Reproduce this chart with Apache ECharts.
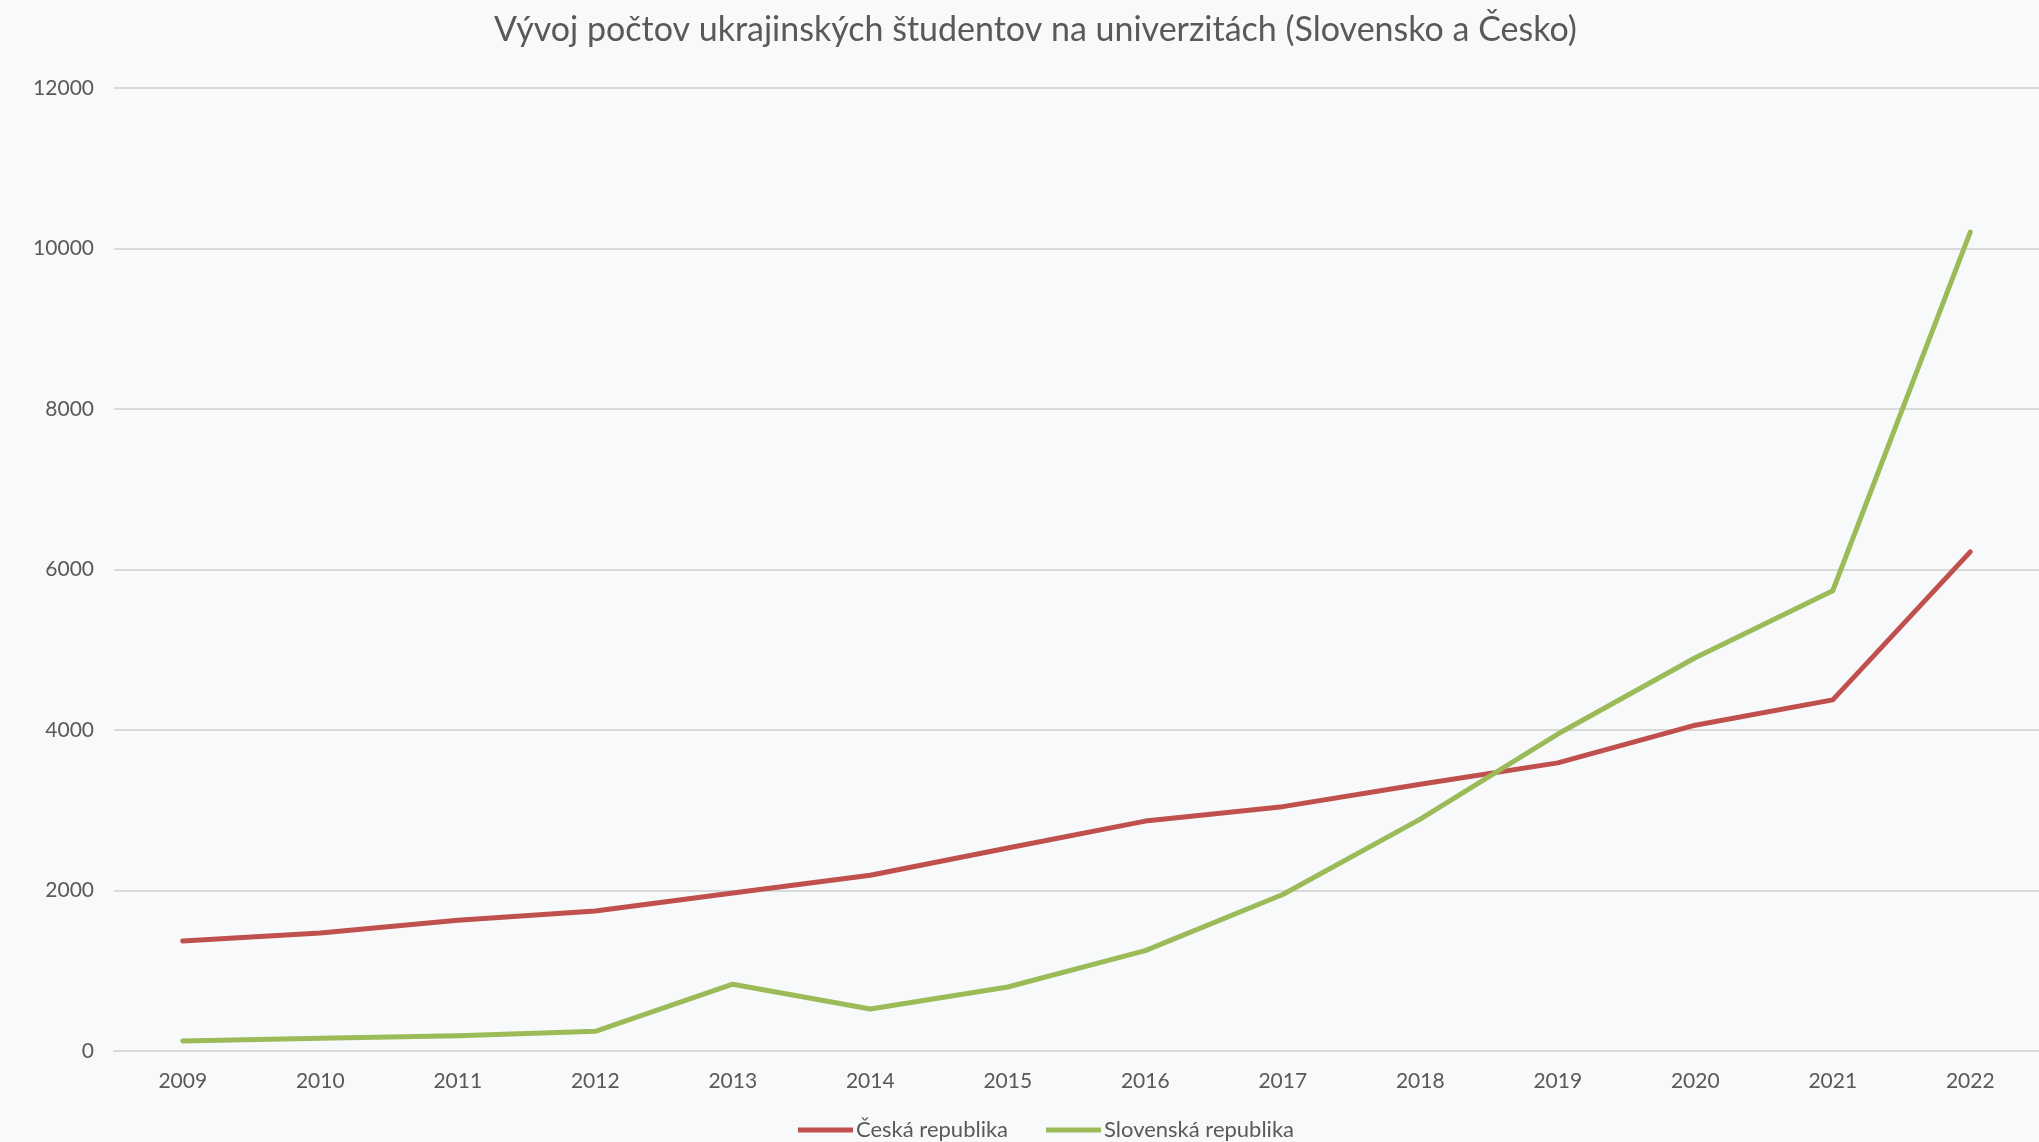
<!DOCTYPE html>
<html>
<head>
<meta charset="utf-8">
<script src="https://cdn.jsdelivr.net/npm/echarts@6/dist/echarts.min.js"></script>
<style>
	html, body { margin: 0; padding: 0; background: #F8F9FA; }
	#chart { width: 2039px; height: 1142px; }
</style>
</head>
<body>
<div id="chart"></div>
<script>
	/*dáta*/
	var roky = ['2009', '2010', '2011', '2012', '2013', '2014', '2015', '2016', '2017', '2018', '2019', '2020', '2021', '2022'];
	var ceskaRepublika = [1370, 1470, 1630, 1745, 1970, 2190, 2530, 2865, 3045, 3325, 3590, 4060, 4375, 6220];
	var slovenskaRepublika = [125, 160, 190, 245, 832, 524, 798, 1250, 1950, 2890, 3950, 4900, 5735, 10205];

	var pismo = 'Lato';

	var myChart = echarts.init(document.getElementById('chart'));
	var option = {
		backgroundColor: '#F8F9FA',
		animation: false,
		title: {
			text: 'Vývoj počtov ukrajinských študentov na univerzitách (Slovensko a Česko)',
			left: 489,
			top: 8,
			textStyle: { fontFamily: pismo, fontSize: 34, fontWeight: 'normal', color: '#595959' }
		},
		legend: {
			bottom: -4,
			left: 793,
			itemWidth: 55,
			itemHeight: 5,
			itemGap: 38,
			icon: 'rect',
			textStyle: { fontFamily: pismo, fontSize: 22, color: '#595959', padding: [0, 0, 0, -2] },
			data: ['Česká republika', 'Slovenská republika']
		},
		grid: { left: 114, right: 0, top: 88, bottom: 91 },
		xAxis: {
			type: 'category',
			data: roky,
			boundaryGap: true,
			axisLine: { show: true, lineStyle: { color: '#D9D9D9', width: 2 } },
			axisTick: { show: false },
			axisLabel: { fontFamily: pismo, fontSize: 21, color: '#595959', margin: 20 }
		},
		yAxis: {
			type: 'value',
			min: 0,
			max: 12000,
			interval: 2000,
			axisLine: { show: false },
			axisTick: { show: false },
			splitLine: { lineStyle: { color: '#D9D9D9', width: 2 } },
			axisLabel: {
				fontFamily: pismo, fontSize: 21, color: '#595959', margin: 20,
				formatter: function (v) { return String(v); }
			}
		},
		series: [{
			name: 'Česká republika',
			type: 'line',
			data: ceskaRepublika,
			symbol: 'none',
			lineStyle: { color: '#C0504D', width: 5, cap: 'round', join: 'round' },
			itemStyle: { color: '#C0504D' }
		}, {
			name: 'Slovenská republika',
			type: 'line',
			data: slovenskaRepublika,
			symbol: 'none',
			lineStyle: { color: '#9BBB59', width: 5, cap: 'round', join: 'round' },
			itemStyle: { color: '#9BBB59' }
		}]
	};
	myChart.setOption(option);
</script>
</body>
</html>
